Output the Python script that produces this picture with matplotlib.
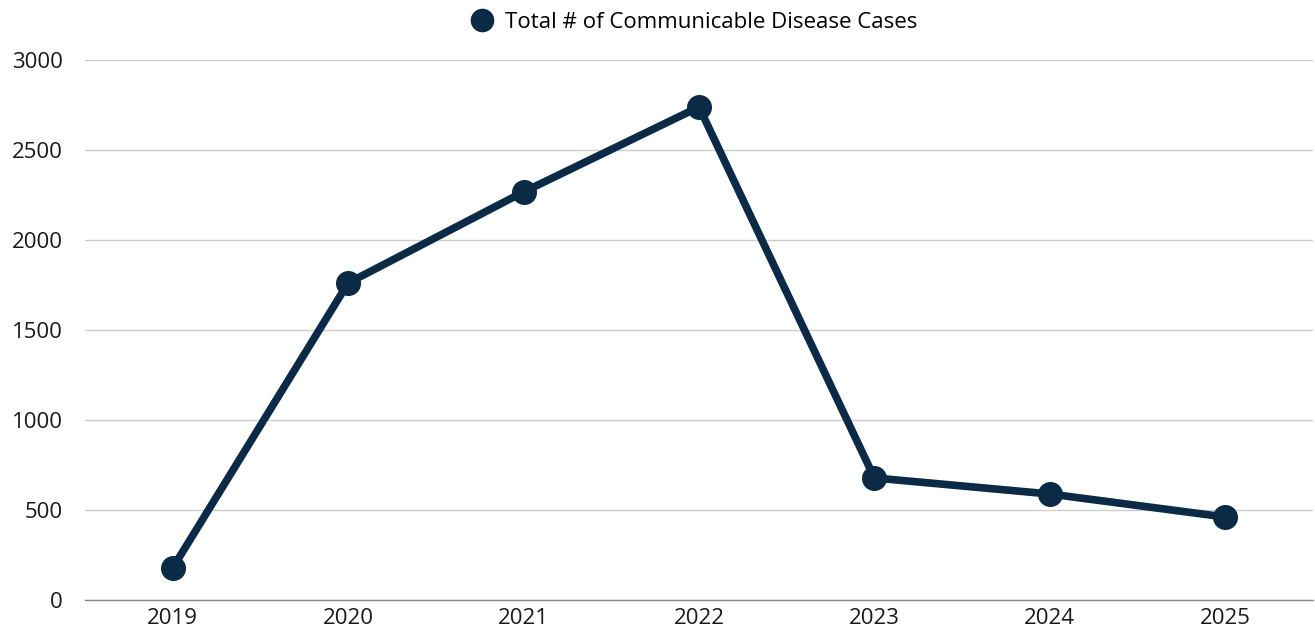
import matplotlib
matplotlib.use('Agg')
import matplotlib.pyplot as plt
from matplotlib.lines import Line2D

# Данные
years = ['2019', '2020', '2021', '2022', '2023', '2024', '2025']
cases = [178, 1761, 2267, 2739, 678, 589, 461]
series_name = 'Total # of Communicable Disease Cases'
y_ticks = [0, 500, 1000, 1500, 2000, 2500, 3000]

plt.rcParams['font.family'] = ['Open Sans', 'DejaVu Sans']
navy = '#0b2a45'

fig = plt.figure(figsize=(13.15, 6.3), dpi=100)
ax = fig.add_axes([85 / 1315, 30 / 630, 1228 / 1315, 540 / 630])

x = range(len(years))
ax.plot(x, cases, color=navy, linewidth=5.5, marker='o', markersize=17,
        solid_capstyle='round', solid_joinstyle='round', zorder=3)

ax.set_xlim(-0.5, len(years) - 0.5)
ax.set_ylim(0, 3000)
ax.set_xticks(list(x))
ax.set_xticklabels(years)
ax.set_yticks(y_ticks)
ax.tick_params(axis='both', length=0, labelsize=16, colors='#1a1a1a')
ax.tick_params(axis='x', pad=6)
ax.tick_params(axis='y', pad=16)

ax.grid(axis='y', color='#cccccc', linewidth=1)
ax.set_axisbelow(True)
for s in ['top', 'right', 'left']:
    ax.spines[s].set_visible(False)
ax.spines['bottom'].set_color('#888888')
ax.spines['bottom'].set_linewidth(1)

handle = Line2D([], [], color=navy, marker='o', linestyle='none', markersize=16)
fig.legend([handle], [series_name], loc='center', bbox_to_anchor=(0.527, 1 - 22 / 630),
           frameon=False, fontsize=16, handletextpad=0.4, handlelength=1.2)

fig.savefig('out.png', dpi=100)
